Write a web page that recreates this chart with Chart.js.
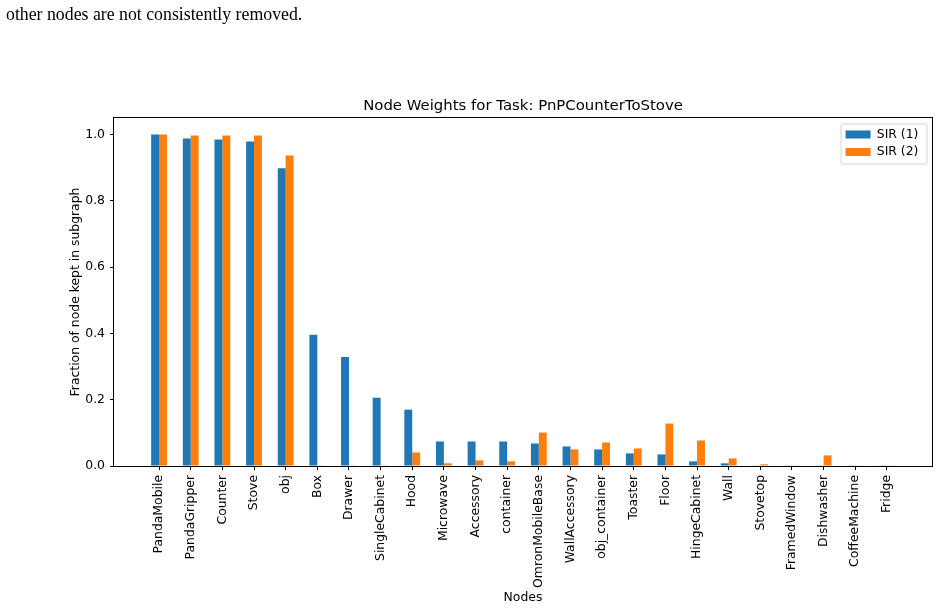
<!DOCTYPE html>
<html>
<head>
<meta charset="utf-8">
<script src="https://cdn.jsdelivr.net/npm/chart.js@4.4.1/dist/chart.umd.min.js"></script>
<style>
  body { margin: 0; background: #fff; }
  #wrap { position: relative; width: 940px; height: 609px; }
  #caption {
    position: absolute; left: 6px; top: 6px;
    font: 17.8px/17.8px "Liberation Serif", serif; color: #000; white-space: nowrap;
  }
</style>
</head>
<body>
<div id="wrap">
  <div id="caption">other nodes are not consistently removed.</div>
  <canvas id="nodeChart"></canvas>
</div>
<script>
// Node names and the fraction of each node kept in the subgraph
const nodes = [
  "PandaMobile", "PandaGripper", "Counter", "Stove", "obj", "Box", "Drawer",
  "SingleCabinet", "Hood", "Microwave", "Accessory", "container",
  "OmronMobileBase", "WallAccessory", "obj_container", "Toaster", "Floor",
  "HingeCabinet", "Wall", "Stovetop", "FramedWindow", "Dishwasher",
  "CoffeeMachine", "Fridge",
];
const sir1 = [
  1.0, 0.988, 0.985, 0.979, 0.898, 0.396, 0.329, 0.206, 0.17, 0.074, 0.074,
  0.074, 0.068, 0.059, 0.05, 0.038, 0.035, 0.014, 0.008, 0.002, 0.001, 0.001,
  0.001, 0.001,
];
const sir2 = [
  1.0, 0.997, 0.997, 0.997, 0.937, 0.001, 0.001, 0.001, 0.041, 0.008, 0.017,
  0.014, 0.101, 0.05, 0.071, 0.053, 0.128, 0.077, 0.023, 0.005, 0.001, 0.032,
  0.001, 0.001,
];
const yTicks = [0, 0.2, 0.4, 0.6, 0.8, 1.0];

const font = "DejaVu Sans";

// legend frame inside the axes + box spines
const axesDecor = {
  id: "axesDecor",
  afterLayout(chart) {
    const lg = chart.legend;
    const area = chart.chartArea;
    lg.left = area.right - 91.5;
    lg.top = area.top + 5.2;
    lg.right = area.right;
    lg.bottom = area.bottom;
  },
  beforeDraw(chart) {
    const { ctx, chartArea: area } = chart;
    ctx.save();
    ctx.beginPath();
    ctx.roundRect(area.right - 91, area.top + 6, 86, 40, 2);
    ctx.fillStyle = "rgba(255,255,255,0.8)";
    ctx.fill();
    ctx.strokeStyle = "#d4d4d4";
    ctx.lineWidth = 1;
    ctx.stroke();
    ctx.restore();
  },
  afterDatasetsDraw(chart) {
    const { ctx, chartArea: area } = chart;
    ctx.save();
    ctx.strokeStyle = "#000";
    ctx.lineWidth = 1;
    ctx.strokeRect(area.left - 0.5, area.top - 0.5, area.right - area.left + 1, area.bottom - area.top + 1);
    ctx.restore();
  },
};

const ctx = document.getElementById("nodeChart").getContext("2d");
new Chart(ctx, {
  type: "bar",
  data: {
    datasets: [
      {
        label: "SIR (1)",
        data: sir1.map((v, i) => ({ x: i, y: v })),
        backgroundColor: "#1f77b4",
      },
      {
        label: "SIR (2)",
        data: sir2.map((v, i) => ({ x: i, y: v })),
        backgroundColor: "#ff7f0e",
      },
    ],
  },
  options: {
    responsive: true,
    maintainAspectRatio: false,
    animation: false,
    categoryPercentage: 0.5,
    barPercentage: 1.0,
    layout: { padding: { left: 0, right: 8, top: 0, bottom: 0 } },
    plugins: {
      title: {
        display: true,
        fullSize: false,
        text: "Node Weights for Task: PnPCounterToStove",
        color: "#000",
        font: { family: font, size: 14.9, weight: "normal" },
        padding: { top: 97, bottom: 3.1 },
      },
      legend: {
        position: "chartArea",
        align: "start",
        labels: {
          color: "#000",
          font: { family: font, size: 12.4 },
          boxWidth: 25,
          boxHeight: 8,
          padding: 5.1,
        },
      },
      tooltip: { enabled: false },
    },
    scales: {
      x: {
        type: "linear",
        min: -1.425,
        max: 24.425,
        offset: false,
        afterBuildTicks: (scale) => {
          scale.ticks = nodes.map((_, i) => ({ value: i }));
        },
        afterFit: (scale) => {
          scale.height = 609 - 466;
        },
        ticks: {
          autoSkip: false,
          minRotation: 90,
          maxRotation: 90,
          padding: 5,
          color: "#000",
          font: { family: font, size: 12.4 },
          callback: (value) => nodes[value],
        },
        grid: {
          offset: false,
          drawOnChartArea: false,
          drawTicks: true,
          tickLength: 4,
          tickColor: "#000",
        },
        border: { display: false },
        title: {
          display: true,
          text: "Nodes",
          color: "#000",
          font: { family: font, size: 12.4 },
          padding: { top: 0, bottom: 3.6 },
        },
      },
      y: {
        min: 0,
        max: 1.05,
        afterBuildTicks: (scale) => {
          scale.ticks = yTicks.map((v) => ({ value: v }));
        },
        afterFit: (scale) => {
          scale.width = 114;
        },
        ticks: {
          padding: 5,
          color: "#000",
          font: { family: font, size: 12.4 },
          callback: (value) => value.toFixed(1),
        },
        grid: {
          drawOnChartArea: false,
          drawTicks: true,
          tickLength: 4,
          tickColor: "#000",
        },
        border: { display: false },
        title: {
          display: true,
          text: "Fraction of node kept in subgraph",
          color: "#000",
          font: { family: font, size: 12.4 },
          padding: { top: 68.4, bottom: 0 },
        },
      },
    },
  },
  plugins: [axesDecor],
});
</script>
</body>
</html>
